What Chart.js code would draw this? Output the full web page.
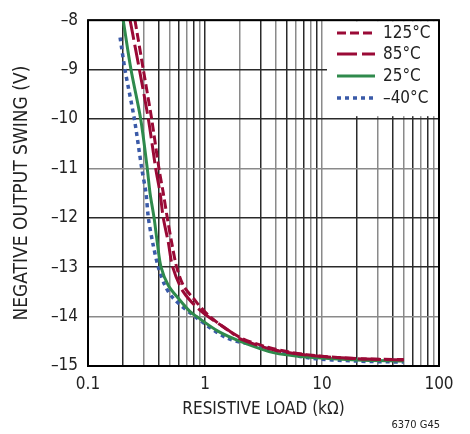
<!DOCTYPE html>
<html>
<head>
<meta charset="utf-8">
<script src="https://cdn.jsdelivr.net/npm/chart.js@4"></script>
<style>
  html, body { margin: 0; padding: 0; background: #fff; }
  #wrap { width: 470px; height: 434px; position: relative; }
</style>
</head>
<body>
<div id="wrap"><canvas id="swingChart"></canvas></div>
<script>
// load (kOhm) and swing (V)
const load125 = [0.252, 0.297, 0.350, 0.404, 0.440, 0.476, 0.519, 0.573, 0.653, 0.794, 1.10, 1.99, 3.84, 7.4, 19.8, 50];
const swing125 = [-8, -9, -10, -11, -11.5, -12, -12.5, -13, -13.37, -13.63, -14, -14.42, -14.65, -14.77, -14.85, -14.87];

const load85 = [0.229, 0.275, 0.328, 0.379, 0.413, 0.440, 0.486, 0.530, 0.653, 0.937, 1.64, 2.0, 3.84, 7.4, 19.8, 50];
const swing85 = [-8, -9, -10, -11, -11.5, -12, -12.5, -13, -13.5, -13.9, -14.3, -14.45, -14.67, -14.78, -14.85, -14.88];

const load25 = [0.200, 0.233, 0.282, 0.321, 0.339, 0.367, 0.391, 0.421, 0.486, 0.591, 0.745, 0.849, 1.30, 2.0, 3.84, 7.4, 19.8, 50];
const swing25 = [-8, -9, -10, -11, -11.5, -12, -12.5, -13, -13.37, -13.63, -13.9, -14, -14.3, -14.5, -14.73, -14.82, -14.88, -14.9];

const loadM40 = [0.188, 0.207, 0.249, 0.288, 0.313, 0.328, 0.357, 0.399, 0.455, 0.536, 0.822, 1.53, 2.95, 7.4, 19.8, 50];
const swingM40 = [-8.35, -9, -10, -11, -11.5, -12, -12.5, -13, -13.37, -13.63, -14, -14.43, -14.6, -14.83, -14.9, -14.92];

const seriesLabels = ['125°C', '85°C', '25°C', '–40°C'];

// grid / tick positions
const xGrid = [0.1, 0.2, 0.3, 0.4, 0.5, 0.6, 0.7, 0.8, 0.9,
               1, 2, 3, 4, 5, 6, 7, 8, 9,
               10, 20, 30, 40, 50, 60, 70, 80, 90, 100];
const xLabels = [0.1, 1, 10, 100];

const FONT = "'Liberation Sans Narrow', 'DejaVu Sans Condensed', 'Roboto', sans-serif";
const RED = '#9a0a36';
const GREEN = '#2f8a4c';
const BLUE = '#3a5aa8';

function pts(xs, ys) {
    return xs.map((x, i) => ({ x: x, y: ys[i] }));
}

// frame, legend box and the small figure code
const extras = {
    id: 'extras',
    afterDatasetsDraw(chart) {
        const ctx = chart.ctx;
        const a = chart.chartArea;
        ctx.save();

        // legend over the grid
        ctx.fillStyle = '#fff';
        ctx.fillRect(327, a.top + 1, a.right - 328, 95);
        ctx.font = '17px ' + FONT;
        ctx.textBaseline = 'middle';
        ctx.textAlign = 'left';
        const rows = [33, 54, 76, 98];
        chart.data.datasets.forEach((ds, i) => {
            ctx.strokeStyle = ds.borderColor;
            ctx.lineWidth = ds.borderWidth;
            ctx.setLineDash(ds.borderDash || []);
            ctx.beginPath();
            ctx.moveTo(337, rows[i]);
            ctx.lineTo(375, rows[i]);
            ctx.stroke();
            ctx.setLineDash([]);
            ctx.fillStyle = '#222';
            ctx.fillText(ds.label, 383, rows[i] + 1);
        });

        // frame
        ctx.strokeStyle = '#000';
        ctx.lineWidth = 2;
        ctx.strokeRect(a.left, a.top, a.right - a.left, a.bottom - a.top);

        ctx.fillStyle = '#222';
        ctx.font = '11px ' + FONT;
        ctx.textAlign = 'right';
        ctx.fillText('6370 G45', 440, 425);
        ctx.restore();
    }
};

const ctx = document.getElementById('swingChart').getContext('2d');
new Chart(ctx, {
    type: 'line',
    data: {
        datasets: [{
            label: seriesLabels[0],
            data: pts(load125, swing125),
            borderColor: RED,
            borderWidth: 3,
            borderDash: [9, 4]
        }, {
            label: seriesLabels[1],
            data: pts(load85, swing85),
            borderColor: RED,
            borderWidth: 3,
            borderDash: [20, 5]
        }, {
            label: seriesLabels[2],
            data: pts(load25, swing25),
            borderColor: GREEN,
            borderWidth: 3
        }, {
            label: seriesLabels[3],
            data: pts(loadM40, swingM40),
            borderColor: BLUE,
            borderWidth: 3.5,
            borderDash: [4, 4]
        }]
    },
    options: {
        responsive: true,
        maintainAspectRatio: false,
        animation: false,
        layout: { padding: { left: 0, top: 15, right: 31, bottom: 0 } },
        elements: {
            point: { radius: 0 },
            line: { tension: 0.3, fill: false, borderCapStyle: 'butt' }
        },
        plugins: {
            legend: { display: false },
            tooltip: { enabled: false }
        },
        scales: {
            x: {
                type: 'logarithmic',
                min: 0.1,
                max: 100,
                afterBuildTicks: function(scale) {
                    scale.ticks = xGrid.map(v => ({ value: v }));
                },
                afterFit: function(scale) { scale.height = 68; },
                grid: {
                    drawTicks: false,
                    lineWidth: 1.5,
                    color: c => (c.index % 2 ? '#2a2a2a' : '#8a8a8a')
                },
                border: { display: false },
                ticks: {
                    autoSkip: false,
                    maxRotation: 0,
                    padding: 8,
                    color: '#222',
                    font: { family: FONT, size: 17 },
                    callback: function(value) {
                        return xLabels.includes(value) ? String(value) : '';
                    }
                },
                title: {
                    display: true,
                    text: 'RESISTIVE LOAD (kΩ)',
                    color: '#222',
                    font: { family: FONT, size: 17 },
                    padding: { top: 0, bottom: 14 }
                }
            },
            y: {
                min: -15,
                max: -8,
                afterFit: function(scale) { scale.width = 88; },
                grid: {
                    drawTicks: false,
                    lineWidth: 1.5,
                    color: c => (c.index % 3 === 1 ? '#8a8a8a' : '#2a2a2a')
                },
                border: { display: false },
                ticks: {
                    stepSize: 1,
                    padding: 10,
                    color: '#222',
                    font: { family: FONT, size: 17 },
                    callback: function(value) {
                        return value < 0 ? '–' + Math.abs(value) : String(value);
                    }
                },
                title: {
                    display: true,
                    text: 'NEGATIVE OUTPUT SWING (V)',
                    color: '#222',
                    font: { family: FONT, size: 19 },
                    padding: { top: 11, bottom: 0 }
                }
            }
        }
    },
    plugins: [extras]
});
</script>
</body>
</html>
